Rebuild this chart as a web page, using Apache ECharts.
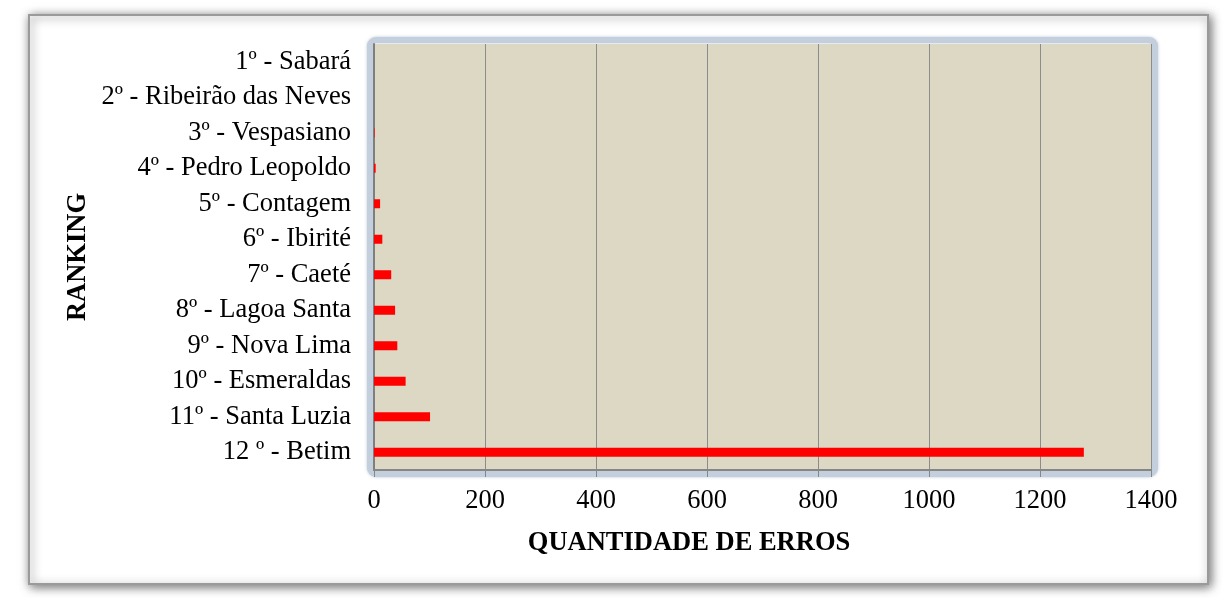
<!DOCTYPE html>
<html><head><meta charset="utf-8">
<script src="https://cdn.jsdelivr.net/npm/echarts@6/dist/echarts.min.js"></script>
<style>html,body{margin:0;padding:0;background:#fff}#c{width:1223px;height:598px}</style>
</head><body><div id="c"></div>
<script>
var categories = ['1º - Sabará','2º - Ribeirão das Neves','3º - Vespasiano','4º - Pedro Leopoldo','5º - Contagem','6º - Ibirité','7º - Caeté','8º - Lagoa Santa','9º - Nova Lima','10º - Esmeraldas','11º - Santa Luzia','12 º - Betim'];
var errors = [0, 0, 1, 3, 11, 15, 31, 38, 42, 57, 101, 1279];
var xTicks = [0, 200, 400, 600, 800, 1000, 1200, 1400];
var xTitle = 'QUANTIDADE DE ERROS';
var yTitle = 'RANKING';

var F = '"Liberation Serif","Times New Roman",serif';
var FS = 26.5;
var chart = echarts.init(document.getElementById('c'));
var G = {left: 374, top: 44, width: 777, height: 426};
chart.setOption({
  animation: false,
  backgroundColor: '#fff',
  graphic: [
    {type: 'rect', z: -10, shape: {x: 29, y: 15, width: 1179, height: 569},
     style: {fill: '#fff', stroke: '#9a9a9a', lineWidth: 2, shadowBlur: 10, shadowOffsetX: 2, shadowOffsetY: 2, shadowColor: 'rgba(0,0,0,0.55)'}},
    {type: 'rect', z: -5, shape: {x: G.left - 4, y: G.top - 4, width: G.width + 8, height: G.height + 8, r: 6},
     style: {fill: 'none', stroke: '#c3cfdd', lineWidth: 6, shadowBlur: 3, shadowColor: 'rgba(120,140,170,0.5)'}},
    {type: 'text', x: 689, y: 543, style: {text: xTitle, font: 'bold ' + FS + 'px ' + F, fill: '#000', align: 'center', verticalAlign: 'middle'}},
    {type: 'text', x: 78, y: 257, rotation: Math.PI / 2, style: {text: yTitle, font: 'bold ' + FS + 'px ' + F, fill: '#000', align: 'center', verticalAlign: 'middle'}}
  ],
  grid: {left: G.left, top: G.top, width: G.width, height: G.height, show: true, backgroundColor: '#ddd8c3', borderWidth: 0},
  xAxis: {
    type: 'value', min: xTicks[0], max: xTicks[xTicks.length - 1], interval: xTicks[1] - xTicks[0],
    axisLine: {show: true, lineStyle: {color: '#868686', width: 2}},
    axisTick: {show: true, length: 7, lineStyle: {color: '#868686'}},
    splitLine: {show: true, lineStyle: {color: '#8c8c8c', width: 1}},
    axisLabel: {color: '#000', fontFamily: F, fontSize: FS, margin: 18, formatter: function (v) { return String(v); }}
  },
  yAxis: {
    type: 'category', data: categories, inverse: true,
    axisLine: {show: true, lineStyle: {color: '#7f7f7f', width: 2}},
    axisTick: {show: false},
    axisLabel: {color: '#000', fontFamily: F, fontSize: FS, margin: 23, padding: [4, 0, 0, 0]}
  },
  series: [{
    type: 'bar', data: errors, barWidth: 9,
    itemStyle: {color: '#ff0000'}
  }]
});
</script></body></html>
